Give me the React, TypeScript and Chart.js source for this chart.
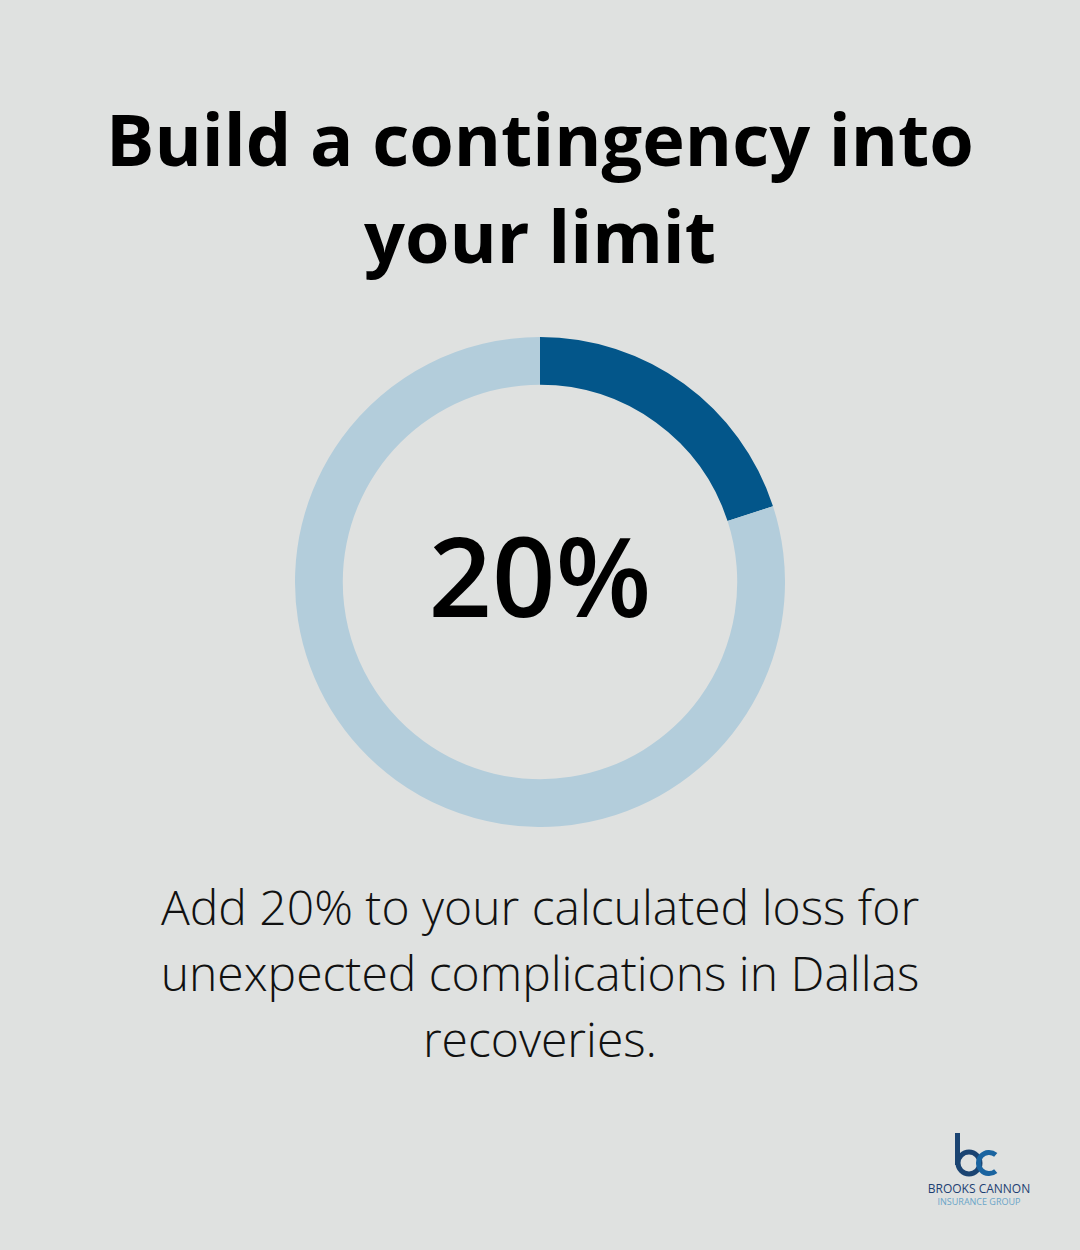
import React, { useEffect, useRef } from "react";
import { Chart, registerables } from "chart.js";

Chart.register(...registerables);

const categories = ["Contingency", "Calculated loss"];
const values = [20, 80];
const colors = ["#03568a", "#b3cddb"];
const titleLines = ["Build a contingency into", "your limit"];
const centerLabel = "20%";
const descriptionLines = [
  "Add 20% to your calculated loss for",
  "unexpected complications in Dallas",
  "recoveries.",
];

export default function App() {
  const canvasRef = useRef<HTMLCanvasElement | null>(null);

  useEffect(() => {
    document.body.style.margin = "0";
    const ctx = canvasRef.current;
    if (!ctx) return;
    const chart = new Chart(ctx, {
      type: "doughnut",
      data: {
        labels: categories,
        datasets: [
          {
            data: values,
            backgroundColor: colors,
            borderWidth: 0,
          },
        ],
      },
      options: {
        animation: false,
        responsive: false,
        cutout: "80.5%",
        plugins: {
          legend: { display: false },
          tooltip: { enabled: false },
        },
      },
    });
    return () => chart.destroy();
  }, []);

  return (
    <div
      style={{
        position: "absolute",
        left: 0,
        top: 0,
        width: 1080,
        height: 1250,
        background: "#dfe1e0",
        fontFamily: "'Open Sans', sans-serif",
        overflow: "hidden",
      }}
    >
      <div
        style={{
          position: "absolute",
          top: 90,
          left: 0,
          width: 1080,
          textAlign: "center",
          fontWeight: 700,
          fontSize: 72,
          lineHeight: "97px",
          color: "#000",
        }}
      >
        {titleLines.map((l, i) => (
          <div key={i}>{l}</div>
        ))}
      </div>
      <canvas
        ref={canvasRef}
        width={490}
        height={490}
        style={{ position: "absolute", left: 295, top: 337, width: 490, height: 490 }}
      />
      <div
        style={{
          position: "absolute",
          top: 499,
          left: 340,
          width: 400,
          textAlign: "center",
          fontWeight: 600,
          fontSize: 111,
          lineHeight: "150px",
          color: "#000",
        }}
      >
        {centerLabel}
      </div>
      <div
        style={{
          position: "absolute",
          top: 874,
          left: 0,
          width: 1080,
          textAlign: "center",
          fontWeight: 300,
          fontSize: 48,
          lineHeight: "66px",
          color: "#111",
        }}
      >
        {descriptionLines.map((l, i) => (
          <div key={i}>{l}</div>
        ))}
      </div>
      <svg
        width={80}
        height={56}
        viewBox="940 1126 80 56"
        style={{ position: "absolute", left: 940, top: 1126 }}
      >
        <line x1={957.5} y1={1133} x2={957.5} y2={1165} stroke="#1b4472" strokeWidth={5} />
        <circle cx={969} cy={1163} r={11} fill="none" stroke="#1b4472" strokeWidth={5} />
        <path
          d="M 995.75 1154.96 A 10.5 10.5 0 1 0 995.75 1171.04"
          fill="none"
          stroke="#1a64a0"
          strokeWidth={5}
        />
      </svg>
      <div
        style={{
          position: "absolute",
          left: 909,
          top: 1182,
          width: 140,
          textAlign: "center",
        }}
      >
        <div style={{ fontSize: 12, color: "#1d3f72", lineHeight: "14px" }}>BROOKS CANNON</div>
        <div style={{ fontSize: 9, color: "#6aa5c8", lineHeight: "12px" }}>INSURANCE GROUP</div>
      </div>
    </div>
  );
}
